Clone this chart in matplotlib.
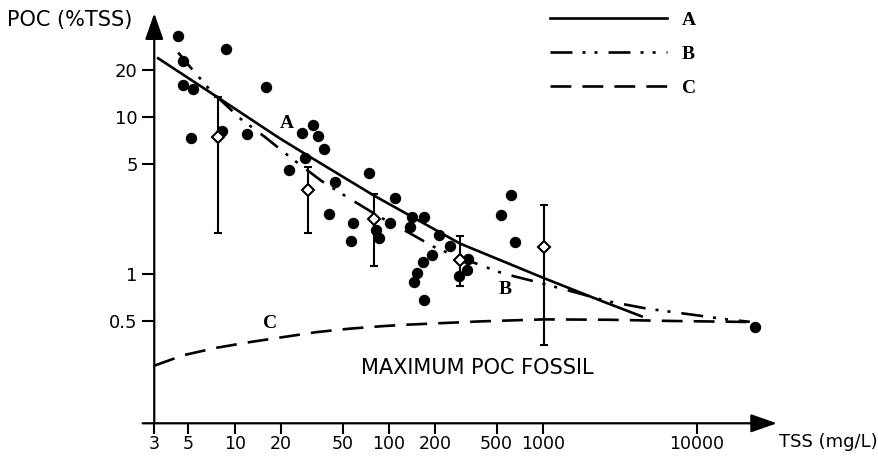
import matplotlib
matplotlib.use("Agg")
import matplotlib.pyplot as plt
from matplotlib.ticker import NullLocator

plt.rcParams['font.family'] = 'DejaVu Sans'
plt.rcParams['lines.scale_dashes'] = False

# individual samples (black dots)
tss_obs = [4.26, 4.63, 4.63, 5.33, 5.19, 8.76, 8.21, 12.0, 15.9, 22.6,
           27.1, 32.3, 34.8, 37.9, 28.7, 44.6, 41.0, 74.6, 58.7, 56.7,
           82.0, 86.2, 101, 109, 141, 169, 137, 212, 249, 190,
           166, 153, 145, 170, 327, 320, 286, 624, 532, 662, 23700]
poc_obs = [33.3, 23.1, 16.0, 15.1, 7.42, 27.3, 8.23, 7.79, 15.6, 4.59,
           7.99, 8.93, 7.62, 6.26, 5.52, 3.83, 2.42, 4.38, 2.11, 1.62,
           1.90, 1.68, 2.11, 3.03, 2.31, 2.31, 2.00, 1.76, 1.51, 1.31,
           1.18, 1.01, 0.884, 0.674, 1.235, 1.06, 0.961, 3.18, 2.36, 1.59, 0.453]

# class means (open diamonds) with ranges
tss_mean = [7.73, 30.0, 80.3, 289, 1019]
poc_mean = [7.44, 3.42, 2.22, 1.22, 1.48]
poc_hi = [13.55, 4.82, 3.21, 1.75, 2.74]
poc_lo = [1.83, 1.83, 1.11, 0.829, 0.347]

# curves A, B, C
a_tss = [3.18, 7.64, 19.6, 30.7, 79.0, 289, 1019, 2341, 4365]
a_poc = [23.9, 13.55, 7.33, 5.59, 3.18, 1.557, 0.933, 0.674, 0.532]
b_tss = [4.29, 5.11, 7.07, 10.96, 15.7, 22.8, 36.6, 53.2, 87.5, 135.5,
         204, 320, 552, 909, 1737, 2588, 4704, 8985, 15546, 22000]
b_poc = [26.0, 21.1, 14.6, 9.75, 7.48, 5.57, 3.91, 3.10, 2.30, 1.82,
         1.45, 1.22, 1.00, 0.884, 0.744, 0.667, 0.597, 0.548, 0.509, 0.491]
c_tss = [3.03, 4.63, 7.62, 12.5, 20.6, 34.0, 55.9, 91.8, 127, 390,
         1019, 2718, 7000, 20946]
c_poc = [0.258, 0.30, 0.335, 0.364, 0.392, 0.422, 0.444, 0.461, 0.47, 0.494,
         0.509, 0.506, 0.497, 0.49]

xticks = [3, 5, 10, 20, 50, 100, 200, 500, 1000, 10000]
yticks = [0.5, 1, 5, 10, 20]

serif = dict(family='Liberation Serif', weight='bold', size=14)

fig = plt.figure(figsize=(8.79, 4.61), dpi=100)
ax = fig.add_axes([0.1755, 0.0818, 0.7084, 0.8894])
ax.set_xscale('log')
ax.set_yscale('log')
ax.set_xlim(3, 32970)
ax.set_ylim(0.11, 46.4)

lw = 1.9
ax.plot(a_tss, a_poc, color='k', lw=lw, label='A')
ax.plot(b_tss, b_poc, color='k', lw=lw, label='B',
        linestyle=(0, (15.8, 7.2, 2.2, 6.5, 2.2, 7.9)))
ax.plot(c_tss, c_poc, color='k', lw=lw, label='C', linestyle=(0, (15, 8)))

ax.plot(tss_obs, poc_obs, 'o', color='k', ms=7.2, ls='none')

yerr = [[m - l for m, l in zip(poc_mean, poc_lo)],
        [h - m for m, h in zip(poc_mean, poc_hi)]]
ax.errorbar(tss_mean, poc_mean, yerr=yerr, fmt='D', ms=6.5, mfc='white',
            mec='k', mew=1.5, ecolor='k', elinewidth=1.5, capsize=3.2,
            capthick=1.5, zorder=4)

# curve labels
ax.text(21.7, 9.18, 'A', ha='center', va='center', **serif)
ax.text(566, 0.787, 'B', ha='center', va='center', **serif)
ax.text(17.0, 0.478, 'C', ha='center', va='center', **serif)
ax.text(373, 0.247, 'MAXIMUM POC FOSSIL', ha='center', va='center', fontsize=15)

# arrow axes
for s in ax.spines.values():
    s.set_visible(False)
arrow = dict(arrowstyle='-|>,head_length=0.8,head_width=0.28', lw=1.6,
             color='k', mutation_scale=20, shrinkA=0, shrinkB=0)
ax.annotate('', xy=(1, 0), xytext=(-0.0186, 0), xycoords='axes fraction',
            arrowprops=arrow, annotation_clip=False)
ax.annotate('', xy=(0, 1), xytext=(0, 0), xycoords='axes fraction',
            arrowprops=arrow, annotation_clip=False)

ax.set_xticks(xticks)
ax.set_xticklabels([str(t) for t in xticks])
ax.set_yticks(yticks)
ax.set_yticklabels(['0.5', '1', '5', '10', '20'])
ax.xaxis.set_minor_locator(NullLocator())
ax.yaxis.set_minor_locator(NullLocator())
ax.tick_params(axis='x', direction='out', length=7.7, width=1.5, pad=1, labelsize=12.5)
ax.tick_params(axis='y', direction='out', length=8.4, width=1.5, pad=3.6, labelsize=13)

fig.text(7 / 879, 1 - 20 / 461, 'POC (%TSS)', fontsize=15, va='center', ha='left')
fig.text(779 / 879, 1 - 442 / 461, 'TSS (mg/L)', fontsize=13, va='center', ha='left')

ax.legend(loc='upper left', bbox_to_anchor=(550 / 879, 1 - 11.3 / 461),
          bbox_transform=fig.transFigure, frameon=False, prop=serif,
          handlelength=6.0, handletextpad=0.77, labelspacing=0.84,
          borderpad=0, borderaxespad=0)

fig.savefig('out.png', dpi=100)
